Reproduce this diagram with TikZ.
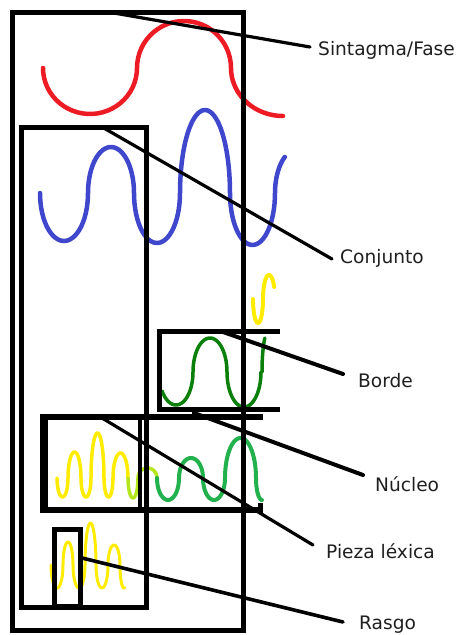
\documentclass[tikz,border=0pt]{standalone}
\usepackage{fontspec}
\setmainfont{DejaVu Sans}
\definecolor{pred}{RGB}{237,28,36}
\definecolor{pblue}{RGB}{63,72,204}
\definecolor{pyellow}{RGB}{255,236,0}
\definecolor{pdkgreen}{RGB}{10,128,10}
\definecolor{pgreen}{RGB}{34,177,76}
\definecolor{plime}{RGB}{181,230,29}
\begin{document}
\begin{tikzpicture}[x=1pt,y=-1pt,
  frame/.style={line width=5pt},
  conn/.style={line width=3.2pt, line cap=round},
  thickconn/.style={line width=4pt, line cap=round},
  wave/.style={line width=#1, line cap=round, line join=round},
  lbl/.style={anchor=base west, inner sep=0pt,
    font=\fontsize{18.6}{22}\selectfont, text=black!88},
]
\useasboundingbox (0,0) rectangle (462,635);

% ---- waves (half ellipses joined at their mid lines) ----
% red
\draw[wave=4.5pt, pred]
  plot[domain=0:180,samples=30] ({90-47*cos(\x)},{68+46*sin(\x)})
  -- plot[domain=0:180,samples=30] ({184-47*cos(\x)},{68-47*sin(\x)})
  -- plot[domain=0:90,samples=20] ({283-52*cos(\x)},{68+48*sin(\x)});
% blue
\draw[wave=4.5pt, pblue]
  plot[domain=0:180,samples=30] ({64-24*cos(\x)},{193+48*sin(\x)})
  -- plot[domain=0:180,samples=30] ({111-23*cos(\x)},{193-46*sin(\x)})
  -- plot[domain=0:180,samples=30] ({157-23*cos(\x)},{193+50*sin(\x)})
  -- plot[domain=0:180,samples=40] ({205-25*cos(\x)},{193-83*sin(\x)})
  -- plot[domain=0:180,samples=30] ({252.5-22.5*cos(\x)},{193+52*sin(\x)})
  -- plot[domain=0:55,samples=15] ({298-23*cos(\x)},{193-44*sin(\x)});
% small yellow above the border box
\draw[wave=4pt, pyellow]
  plot[domain=0:180,samples=25] ({258-5*cos(\x)},{299+24*sin(\x)})
  -- plot[domain=0:150,samples=25] ({269-6*cos(\x)},{299-24*sin(\x)});
% dark green inside the border box
\draw[wave=3.5pt, pdkgreen]
  plot[domain=35:180,samples=25] ({176-17*cos(\x)},{372+33*sin(\x)})
  -- plot[domain=0:180,samples=30] ({210-17*cos(\x)},{372-34*sin(\x)})
  -- plot[domain=0:180,samples=30] ({244-17*cos(\x)},{372+35*sin(\x)})
  -- plot[domain=0:58,samples=15] ({268-6*cos(\x)},{372-40*sin(\x)});
% yellow inside the lexical piece
\draw[wave=3.5pt, pyellow]
  plot[domain=0:180,samples=25] ({62.5-5.5*cos(\x)},{478+19*sin(\x)})
  -- plot[domain=0:180,samples=25] ({74.5-6.5*cos(\x)},{478-26*sin(\x)})
  -- plot[domain=0:180,samples=25] ({86-5*cos(\x)},{478+19*sin(\x)})
  -- plot[domain=0:180,samples=30] ({97.5-6.5*cos(\x)},{478-45*sin(\x)})
  -- plot[domain=0:180,samples=25] ({108.5-4.5*cos(\x)},{478+19*sin(\x)})
  -- plot[domain=0:180,samples=25] ({120.5-7.5*cos(\x)},{478-25*sin(\x)});
\draw[wave=3.5pt, plime]
  plot[domain=0:180,samples=25] ({133-5*cos(\x)},{478+20*sin(\x)})
  -- plot[domain=0:180,samples=25] ({147.5-9.5*cos(\x)},{478-10*sin(\x)});
% green of the nucleus
\draw[wave=4pt, pgreen]
  plot[domain=0:180,samples=25] ({168-11*cos(\x)},{478+22*sin(\x)})
  -- plot[domain=0:180,samples=25] ({191-12*cos(\x)},{478-20*sin(\x)})
  -- plot[domain=0:180,samples=25] ({214-11*cos(\x)},{478+22*sin(\x)})
  -- plot[domain=0:180,samples=30] ({240.5-15.5*cos(\x)},{478-40*sin(\x)})
  -- plot[domain=0:90,samples=15] ({262-6*cos(\x)},{478+22*sin(\x)});
% yellow of the feature
\draw[wave=3pt, pyellow]
  plot[domain=0:180,samples=25] ({57-6*cos(\x)},{565+23*sin(\x)})
  -- plot[domain=0:180,samples=25] ({68-5*cos(\x)},{565-23*sin(\x)})
  -- plot[domain=0:180,samples=25] ({79-6*cos(\x)},{565+23*sin(\x)})
  -- plot[domain=0:180,samples=30] ({90.5-5.5*cos(\x)},{565-42*sin(\x)})
  -- plot[domain=0:180,samples=25] ({102-6*cos(\x)},{565+23*sin(\x)})
  -- plot[domain=0:180,samples=25] ({114-6*cos(\x)},{565-20*sin(\x)})
  -- plot[domain=0:100,samples=15] ({124-4*cos(\x)},{565+23*sin(\x)});

% ---- boxes ----
\draw[frame] (12,12) rectangle (243,630);          % phrase / phase
\draw[frame] (21,127) rectangle (146,607);         % set
\draw[frame] (280,331) -- (159,331) -- (159,409) -- (280,409); % edge
% nucleus and lexical piece
\draw[line width=6pt] (263,417) -- (41,417);
\draw[line width=6pt] (41,510) -- (262,510);
\draw[line width=8pt] (44,414) -- (44,513);
\draw[line width=4.5pt] (140,417) -- (140,510);
\draw[line width=5pt] (260,503) -- (260,513);
% feature
\draw[frame] (54.5,529.5) rectangle (80.5,606);

% ---- labels ----
\node[lbl] (sf) at (318,55)  {Sintagma/Fase};
\node[lbl] (cj) at (340,263) {Conjunto};
\node[lbl] (bd) at (358,387) {Borde};
\node[lbl] (nc) at (375,491) {Núcleo};
\node[lbl] (pz) at (326,558) {Pieza léxica};
\node[lbl] (rs) at (359,629) {Rasgo};

% ---- leader lines ----
\coordinate (sfA) at (108,12);  \coordinate (sfB) at (310,47);
\coordinate (cjA) at (102,127); \coordinate (cjB) at (332,259);
\coordinate (bdA) at (223,332); \coordinate (bdB) at (343,374);
\coordinate (ncA) at (194,413); \coordinate (ncB) at (363,475);
\coordinate (pzA) at (102,418); \coordinate (pzB) at (313,545);
\coordinate (rsA) at (82,558);  \coordinate (rsB) at (343,622);
\draw[conn] (sfA) -- (sfB);
\draw[conn] (cjA) -- (cjB);
\draw[thickconn] (bdA) -- (bdB);
\draw[thickconn] (ncA) -- (ncB);
\draw[conn] (pzA) -- (pzB);
\draw[conn, line width=3.6pt] (rsA) -- (rsB);
\end{tikzpicture}
\end{document}
